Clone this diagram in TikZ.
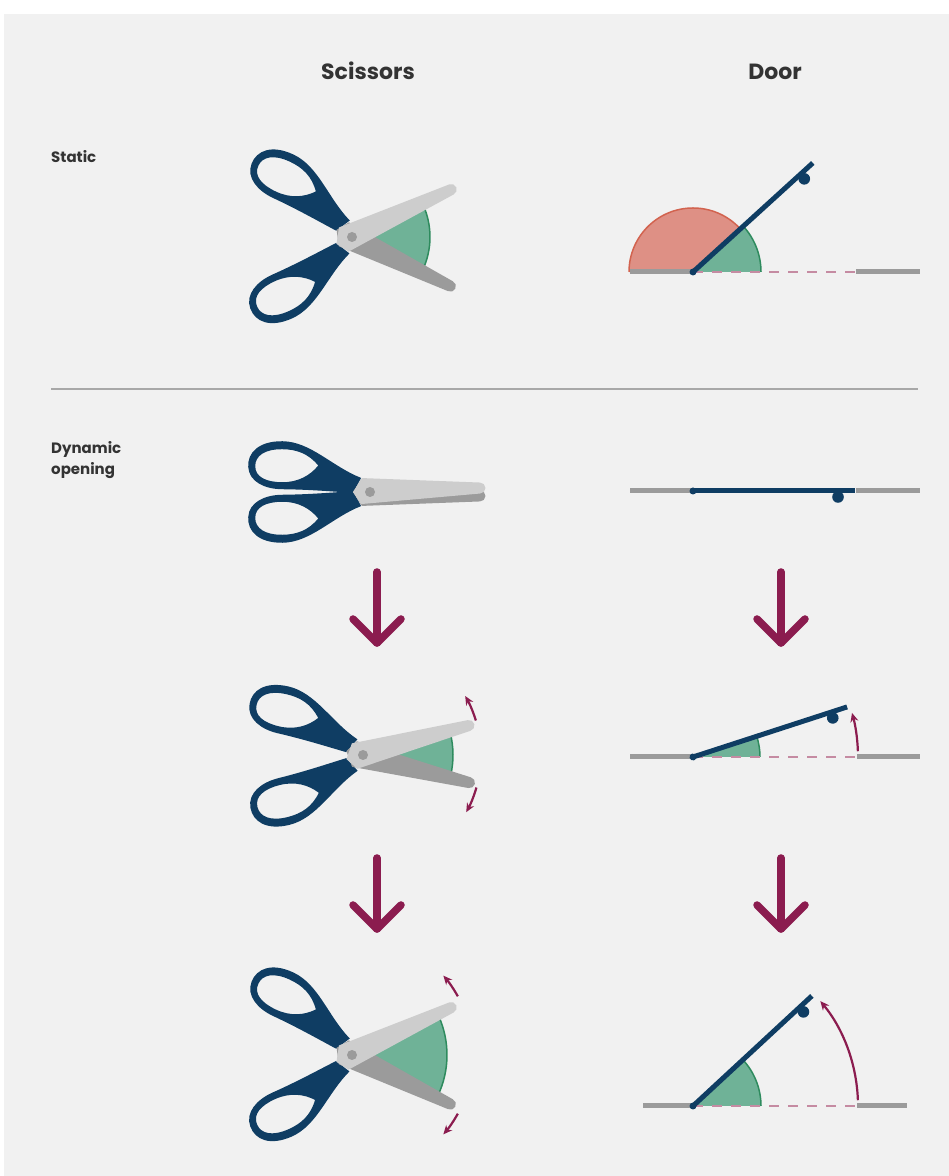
\documentclass[tikz,border=0pt]{standalone}
\usepackage{fontspec}
\setmainfont{Poppins}
\usetikzlibrary{arrows.meta}

\definecolor{panel}{HTML}{F1F1F1}
\definecolor{navy}{HTML}{0F3D63}
\definecolor{bladelight}{HTML}{CDCDCD}
\definecolor{bladedark}{HTML}{9B9B9B}
\definecolor{sectorfill}{HTML}{6FB297}
\definecolor{sectoredge}{HTML}{2E8B5E}
\definecolor{obtusefill}{HTML}{DE9085}
\definecolor{obtuseedge}{HTML}{D2634F}
\definecolor{plum}{HTML}{8B1C4F}
\definecolor{dashpink}{HTML}{C58BA2}
\definecolor{ink}{HTML}{333333}
\definecolor{rule}{HTML}{A8A8A8}
\definecolor{wallgray}{HTML}{9B9B9B}

% one finger loop of the scissors, pivot at the origin, closed position
\def\looppath{(-9,14) .. controls (-38,25) and (-60,50) .. (-88,50)
  .. controls (-112,50) and (-123,38) .. (-122,24)
  .. controls (-121,9) and (-105,2) .. (-88,2)
  .. controls (-60,2) and (-36,0) .. (-17,-1) -- cycle
  (-52,26) .. controls (-62,38) and (-74,42) .. (-88,42)
  .. controls (-106,42) and (-115,35) .. (-115,25)
  .. controls (-115,14) and (-104,9) .. (-88,9)
  .. controls (-72,9) and (-60,16) .. (-52,26) -- cycle}
% one blade with its pivot plate
\def\bladepath{(-17,0) -- (-8,14) -- (110,8.5)
  arc[start angle=90, end angle=-90, radius=5.5] -- (-9,-12) -- cycle}

% #1 name, #2 x, #3 y, #4 upper blade angle, #5 lower blade angle, #6 sector radius
\newcommand{\scissorpair}[6]{%
  \coordinate (#1) at (#2,#3);
  \begin{scope}[shift={(#1)}]
    \fill[sectorfill] (0,0) -- (#5:#6) arc[start angle=#5, end angle=#4, radius=#6] -- cycle;
    \draw[sectoredge, line width=1.5] (#5:#6) arc[start angle=#5, end angle=#4, radius=#6];
    \begin{scope}[rotate=#5] \fill[navy, even odd rule] \looppath; \end{scope}
    \begin{scope}[rotate=#4, yscale=-1] \fill[navy, even odd rule] \looppath; \end{scope}
    \begin{scope}[rotate=#5, yscale=-1] \fill[bladedark] \bladepath; \end{scope}
    \begin{scope}[rotate=#4] \fill[bladelight] \bladepath; \end{scope}
    \fill[bladedark] (0,0) circle (5);
  \end{scope}}

% door leaf: #1 hinge coordinate, #2 opening angle
\newcommand{\doorleaf}[2]{%
  \begin{scope}[shift={(#1)}, rotate=#2]
    \draw[leaf] (0,0) -- (162,0);
    \fill[navy] (145,-6) circle (5.8);
    \fill[navy] (0,0) circle (3.5);
  \end{scope}}

\begin{document}
\begin{tikzpicture}[x=1pt, y=1pt,
  title/.style={font=\bfseries\fontsize{22}{26}\selectfont, text=ink, inner sep=0pt, anchor=base},
  rowlabel/.style={font=\bfseries\fontsize{15}{20}\selectfont, text=ink, inner sep=0pt, anchor=base west},
  wall/.style={draw=wallgray, line width=5},
  leaf/.style={draw=navy, line width=5},
  dashline/.style={draw=dashpink, line width=1.6, dash pattern=on 10pt off 9pt},
  downarrow/.style={draw=plum, line width=7.5, line cap=round, line join=round},
  swing/.style={draw=plum, line width=2.2, -{Stealth[length=9pt, width=8pt]}},
  sector/.style={fill=sectorfill},
  sectorline/.style={draw=sectoredge, line width=1.5}]

\useasboundingbox (0,0) rectangle (949,1176);
\fill[panel] (4,0) rectangle (949,1162);

% column and row headings
\node[title] (tscissors) at (368,1096) {Scissors};
\node[title] (tdoor) at (775,1096) {Door};
\node[rowlabel] (lstatic) at (51,1013) {Static};
\node[rowlabel] (ldyn1) at (51,722) {Dynamic};
\node[rowlabel] (ldyn2) at (51,701) {opening};

% separator
\coordinate (sepL) at (51,787);
\coordinate (sepR) at (918,787);
\draw[rule, line width=1.3] (sepL) -- (sepR);

% ---------- scissors ----------
\scissorpair{sA}{352}{939}{24}{-25}{78}
\scissorpair{sB}{370}{684}{0.5}{-0.5}{1}
\scissorpair{sC}{363}{421}{14}{-13}{90}
\scissorpair{sD}{352}{121}{24}{-25}{95}

\begin{scope}[shift={(sC)}]
  \draw[swing] (17:118) arc[start angle=17, end angle=30, radius=118];
  \draw[swing] (-16:118) arc[start angle=-16, end angle=-29, radius=118];
\end{scope}
\begin{scope}[shift={(sD)}]
  \draw[swing] (29:121) arc[start angle=29, end angle=41, radius=121];
  \draw[swing] (-29:121) arc[start angle=-29, end angle=-41, radius=121];
\end{scope}

% ---------- doors ----------
% static
\coordinate (hA) at (693,904);
\coordinate (wA1) at (630,904);
\coordinate (wA2) at (856,904);
\coordinate (wA3) at (920,904);
\fill[obtusefill] (hA) ++(64,0) arc[start angle=0, end angle=180, radius=64] -- cycle;
\draw[obtuseedge, line width=1.5] (hA) ++(64,0) arc[start angle=0, end angle=180, radius=64];
\fill[sector] (hA) -- ++(68,0) arc[start angle=0, end angle=42.3, radius=68] -- cycle;
\draw[sectorline] (hA) ++(68,0) arc[start angle=0, end angle=42.3, radius=68];
\draw[dashline] (hA) -- (wA2);
\draw[wall] (wA1) -- (hA);
\draw[wall] (wA2) -- (wA3);
\doorleaf{hA}{42.3}

% closed
\coordinate (hB) at (693,685);
\coordinate (wB1) at (630,685);
\coordinate (wB2) at (856,685);
\coordinate (wB3) at (920,685);
\draw[wall] (wB1) -- (hB);
\draw[wall] (wB2) -- (wB3);
\doorleaf{hB}{0}

% slightly open
\coordinate (hC) at (693,419);
\coordinate (wC1) at (630,419);
\coordinate (wC2) at (857,419);
\coordinate (wC3) at (920,419);
\fill[sector] (hC) -- ++(67,0) arc[start angle=0, end angle=18, radius=67] -- cycle;
\draw[sectorline] (hC) ++(67,0) arc[start angle=0, end angle=18, radius=67];
\draw[dashline] (hC) -- (wC2);
\draw[wall] (wC1) -- (hC);
\draw[wall] (wC2) -- (wC3);
\doorleaf{hC}{18}
\draw[swing] (hC) ++(2:165) arc[start angle=2, end angle=15.5, radius=165];

% wide open
\coordinate (hD) at (693,70);
\coordinate (wD1) at (643,70);
\coordinate (wD2) at (857,70);
\coordinate (wD3) at (907,70);
\fill[sector] (hD) -- ++(68,0) arc[start angle=0, end angle=42.8, radius=68] -- cycle;
\draw[sectorline] (hD) ++(68,0) arc[start angle=0, end angle=42.8, radius=68];
\draw[dashline] (hD) -- (wD2);
\draw[wall] (wD1) -- (hD);
\draw[wall] (wD2) -- (wD3);
\doorleaf{hD}{42.8}
\draw[swing] (hD) ++(2:165) arc[start angle=2, end angle=39.5, radius=165];

% ---------- step arrows ----------
\foreach \name/\x/\top/\tip in {a1/377/604/533, a2/781/604/533, a3/377/318/247, a4/781/318/247}{
  \coordinate (\name s) at (\x,\top);
  \coordinate (\name t) at (\x,\tip);
  \coordinate (\name l) at (\x-24,\tip+24);
  \coordinate (\name r) at (\x+24,\tip+24);
  \draw[downarrow] (\name s) -- (\name t);
  \draw[downarrow] (\name l) -- (\name t) -- (\name r);
}
\end{tikzpicture}
\end{document}
